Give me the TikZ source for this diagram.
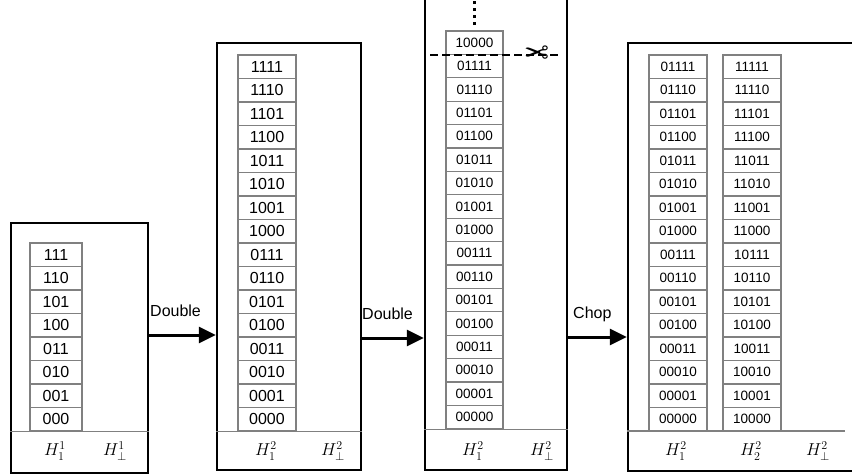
\documentclass[tikz,border=0pt]{standalone}
\usepackage[no-math]{fontspec}
\setmainfont{Liberation Sans}
\newfontfamily\scissorfont{DejaVu Sans}
\usetikzlibrary{arrows.meta}

\begin{document}
\begin{tikzpicture}
[x=1pt,y=-1pt,
  boxDecorate/.style={draw,line width=2.5pt,inner sep=0pt},
  cellDecorate/.style={draw=gray,line width=1.3pt,inner sep=0pt,minimum width=58pt,
    minimum height=23.5pt,font=\fontsize{16}{18}\selectfont},
  smallCellDecorate/.style={cellDecorate,minimum height=23.4pt,font=\fontsize{13.5}{15}\selectfont},
  sepDecorate/.style={draw=gray,line width=1.5pt},
  labelDecorate/.style={font=\fontsize{17}{20}\selectfont},
  arrowDecorate/.style={-{Triangle[length=17pt,width=16pt]},line width=3pt},
  opDecorate/.style={anchor=west,inner sep=0pt,font=\fontsize{16}{18}\selectfont}]
\useasboundingbox (0,0) rectangle (852,475);
\clip (0,0) rectangle (852,475);
%% panels
\node (box1) at (79.5,348) [boxDecorate,minimum width=137pt,minimum height=250pt] {};
\node (box2) at (289,256.5) [boxDecorate,minimum width=144pt,minimum height=427pt] {};
\node (box3) at (496,225) [boxDecorate,minimum width=142pt,minimum height=490pt] {};
\node (box4) at (742,257) [boxDecorate,minimum width=228pt,minimum height=428pt] {};
%% hash buckets
\foreach \code [count=\i] in {111,110,101,100,011,010,001,000}
{
  \node (p1-\code) at (56,{243+23.5*\i-11.75}) [cellDecorate,minimum width=52pt] {\code};
}
\foreach \code [count=\i] in {1111,1110,1101,1100,1011,1010,1001,1000,
  0111,0110,0101,0100,0011,0010,0001,0000}
{
  \node (p2-\code) at (267,{55+23.5*\i-11.75}) [cellDecorate] {\code};
}
\foreach \code [count=\i] in {10000,01111,01110,01101,01100,01011,01010,01001,01000,
  00111,00110,00101,00100,00011,00010,00001,00000}
{
  \node (p3-\code) at (474.5,{31+23.4*\i-11.7}) [smallCellDecorate,minimum width=57pt] {\code};
}
\foreach \codeA/\codeB [count=\i] in {01111/11111,01110/11110,01101/11101,01100/11100,
  01011/11011,01010/11010,01001/11001,01000/11000,00111/10111,00110/10110,
  00101/10101,00100/10100,00011/10011,00010/10010,00001/10001,00000/10000}
{
  \node (p4a-\codeA) at (678,{55+23.5*\i-11.75}) [smallCellDecorate] {\codeA};
  \node (p4b-\codeB) at (752,{55+23.5*\i-11.75}) [smallCellDecorate] {\codeB};
}
%% separators
\draw[sepDecorate] (box1.west |- p1-000.south) -- (box1.east |- p1-000.south);
\draw[sepDecorate] (box2.west |- p2-0000.south) -- (box2.east |- p2-0000.south);
\draw[sepDecorate] (box3.west |- p3-00000.south) -- (box3.east |- p3-00000.south);
\coordinate (sepEnd4) at (845,431);
\draw[sepDecorate] (box4.west |- sepEnd4) -- (sepEnd4);
%% node labels
\foreach \nodename/\x/\text in {
  h11/55/{H_1^1}, h1p/115/{H_\perp^1}, h21/266/{H_1^2}, h2p/333/{H_\perp^2},
  h31/473/{H_1^2}, h3p/542/{H_\perp^2}, h41/676/{H_1^2}, h42/751/{H_2^2}, h4p/818/{H_\perp^2}}
{
  \node (\nodename) at (\x,451) [labelDecorate] {$\text$};
}
%% cut mark
\draw[line width=3pt,dash pattern=on 3pt off 4pt] (474.5,25) -- (474.5,0);
\draw[line width=2pt,dash pattern=on 8pt off 4pt] (430,55) -- (558,55);
\node (cut) at (537,55) [font=\fontsize{30}{32}\scissorfont] {\reflectbox{✂}};
%% operations
\coordinate (dbl1) at (148,335);
\coordinate (dbl2) at (361,338);
\coordinate (chop) at (567,337);
\draw[arrowDecorate] (dbl1) -- (dbl1 -| box2.west);
\draw[arrowDecorate] (dbl2) -- (dbl2 -| box3.west);
\draw[arrowDecorate] (chop) -- (chop -| box4.west);
\node (opDouble1) at (150,311) [opDecorate] {Double};
\node (opDouble2) at (362,314) [opDecorate] {Double};
\node (opChop) at (573,314) [opDecorate] {Chop};
\end{tikzpicture}
\end{document}
